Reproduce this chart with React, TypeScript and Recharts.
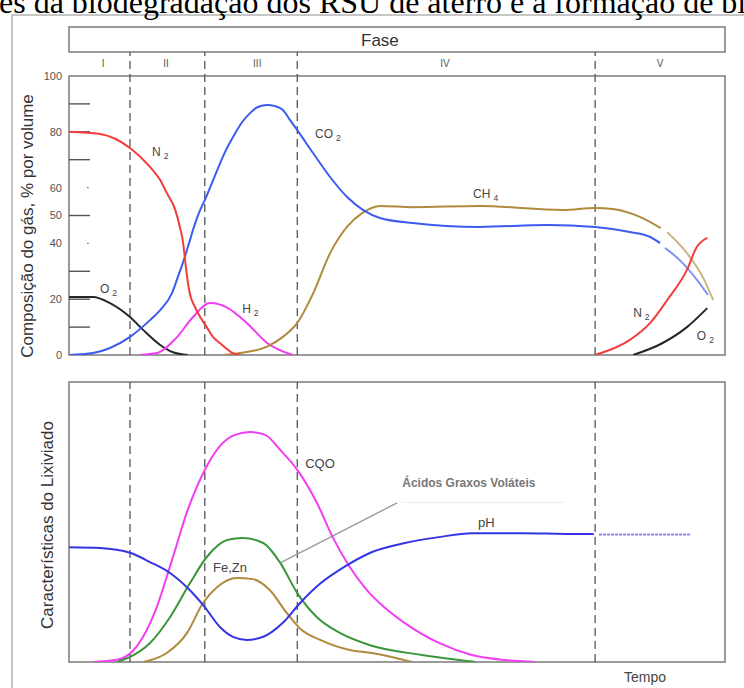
import React from 'react';
import { LineChart, Line, XAxis, YAxis, ReferenceArea, ReferenceLine, ReferenceDot } from 'recharts';

type Pt = { t: number; v: number };

const SANS = '"Liberation Sans", Arial, Helvetica, sans-serif';
const SERIF = '"Liberation Serif", "Times New Roman", serif';

// Time axis runs 0–100 (arbitrary units); phase boundaries I|II|III|IV|V
const PHASE_BOUNDS = [9.3, 20.7, 34.8, 80.2];
const PHASE_NAMES = ['I', 'II', 'III', 'IV', 'V'];
const PHASE_LABEL_T = [5.2, 14.8, 28.7, 57.3, 90.1];

// Gas composition axis
const GAS_TICKS = [0, 20, 40, 50, 60, 80, 100];
const GAS_MARKS = [10, 20, 30, 50, 70, 80, 90];
const GAS_DOTS = [40, 60];

// Gas composition, % by volume
const n2Early: Pt[] = [
  { t: 0, v: 80 }, { t: 4.73, v: 79.2 }, { t: 9.3, v: 74.2 }, { t: 12.35, v: 67.4 },
  { t: 13.9, v: 62.7 }, { t: 14.9, v: 58.1 }, { t: 16.2, v: 52 }, { t: 16.9, v: 45.9 },
  { t: 17.4, v: 40.1 }, { t: 17.7, v: 34 }, { t: 18.0, v: 28 }, { t: 18.4, v: 22.2 },
  { t: 19.2, v: 17.2 }, { t: 20.0, v: 13.6 }, { t: 21.0, v: 10 }, { t: 21.95, v: 6.5 },
  { t: 23.0, v: 4.3 }, { t: 25.0, v: 0.7 }, { t: 26.1, v: 0 },
];
const o2Early: Pt[] = [
  { t: 0, v: 20.8 }, { t: 3.66, v: 20.8 }, { t: 6.25, v: 18.6 }, { t: 9.3, v: 13.6 },
  { t: 11.3, v: 9 }, { t: 13.9, v: 3.6 }, { t: 15.85, v: 1 }, { t: 18.1, v: 0 },
];
const co2Main: Pt[] = [
  { t: 0, v: 0 }, { t: 3.66, v: 0.7 }, { t: 6.25, v: 2.5 }, { t: 9.3, v: 6.5 },
  { t: 12.35, v: 12.5 }, { t: 13.9, v: 16.1 }, { t: 15.7, v: 22.2 }, { t: 16.6, v: 28 },
  { t: 17.5, v: 34 }, { t: 18.3, v: 40.1 }, { t: 19.05, v: 45.9 }, { t: 20.0, v: 52 },
  { t: 20.7, v: 55.5 }, { t: 22.6, v: 66.3 }, { t: 23.8, v: 72.8 }, { t: 25.0, v: 78.1 },
  { t: 26.4, v: 83.5 }, { t: 27.6, v: 86.7 }, { t: 28.8, v: 88.9 }, { t: 30.2, v: 89.6 },
  { t: 31.4, v: 89.2 }, { t: 32.6, v: 87.8 }, { t: 33.7, v: 84.2 }, { t: 34.8, v: 80.6 },
  { t: 37.2, v: 72.4 }, { t: 39.8, v: 63.8 }, { t: 42.4, v: 56.6 }, { t: 44.8, v: 52 },
  { t: 47.4, v: 49.1 }, { t: 52.4, v: 47.3 }, { t: 62.65, v: 45.9 }, { t: 72.9, v: 46.6 },
  { t: 80.2, v: 45.9 }, { t: 85.5, v: 44.1 }, { t: 88.6, v: 42.3 }, { t: 90.1, v: 40.1 },
];
const co2Late: Pt[] = [
  { t: 90.85, v: 38.4 }, { t: 93.1, v: 34 }, { t: 95.7, v: 27 }, { t: 97.4, v: 21.5 },
];
const ch4Main: Pt[] = [
  { t: 23.5, v: 0 }, { t: 26.1, v: 0.7 }, { t: 30.2, v: 3 }, { t: 32.6, v: 6.5 },
  { t: 34.8, v: 11.5 }, { t: 37.2, v: 22 }, { t: 39.8, v: 36.5 }, { t: 42.4, v: 46 },
  { t: 44.8, v: 51 }, { t: 47.4, v: 53.4 }, { t: 52.4, v: 53 }, { t: 62.65, v: 53.4 },
  { t: 75.3, v: 52 }, { t: 80.2, v: 52.7 }, { t: 82.9, v: 52.3 }, { t: 87.0, v: 49.5 },
  { t: 90.2, v: 45.5 },
];
const ch4Late: Pt[] = [
  { t: 91.2, v: 44 }, { t: 94.2, v: 36.5 }, { t: 96.6, v: 28 }, { t: 98.2, v: 19.7 },
];
const h2Peak: Pt[] = [
  { t: 10.8, v: 0 }, { t: 13.4, v: 0.7 }, { t: 16.5, v: 6.5 }, { t: 18.9, v: 13.6 },
  { t: 21.5, v: 18.6 }, { t: 24.1, v: 17 }, { t: 27.1, v: 11.5 }, { t: 30.2, v: 4.3 },
  { t: 34.1, v: 0 },
];
const n2Late: Pt[] = [
  { t: 80.2, v: 0 }, { t: 85.5, v: 5.4 }, { t: 88.6, v: 11.5 }, { t: 91.2, v: 19.7 },
  { t: 94.2, v: 30.5 }, { t: 95.7, v: 38.7 }, { t: 97.3, v: 42 },
];
const o2Late: Pt[] = [
  { t: 86.0, v: 0 }, { t: 90.5, v: 4.3 }, { t: 94.2, v: 10 }, { t: 97.3, v: 16.8 },
];

// Leachate characteristics (relative scale 0–100)
const cqo: Pt[] = [
  { t: 3.66, v: 0 }, { t: 7.8, v: 1.1 }, { t: 10.5, v: 6.1 }, { t: 13.1, v: 17.9 },
  { t: 15.7, v: 36.4 }, { t: 18.1, v: 54.3 }, { t: 20.7, v: 68.6 }, { t: 23.0, v: 77.1 },
  { t: 25.3, v: 81.1 }, { t: 27.6, v: 82.1 }, { t: 29.9, v: 81.1 }, { t: 32.2, v: 75.7 },
  { t: 34.8, v: 68.6 }, { t: 37.8, v: 56.8 }, { t: 40.2, v: 44.6 }, { t: 42.8, v: 33.9 },
  { t: 45.4, v: 25.7 }, { t: 48.2, v: 19.3 }, { t: 51.2, v: 13.9 }, { t: 56.4, v: 6.8 },
  { t: 61.4, v: 2.5 }, { t: 66.5, v: 0.7 }, { t: 71.0, v: 0 },
];
const acidosGraxos: Pt[] = [
  { t: 7.3, v: 0 }, { t: 9.3, v: 1.8 }, { t: 12.35, v: 6.8 }, { t: 15.4, v: 16 },
  { t: 18.4, v: 28 }, { t: 21.0, v: 37.5 }, { t: 24.1, v: 43.6 }, { t: 26.5, v: 44.3 },
  { t: 29.6, v: 42.5 }, { t: 32.2, v: 35.4 }, { t: 34.8, v: 24.6 }, { t: 37.8, v: 16 },
  { t: 41.3, v: 10.4 }, { t: 45.9, v: 6 }, { t: 53.8, v: 2.5 }, { t: 62.0, v: 0 },
];
const feZn: Pt[] = [
  { t: 11.3, v: 0 }, { t: 14.9, v: 3.2 }, { t: 18.0, v: 10.4 }, { t: 20.4, v: 21 },
  { t: 22.6, v: 26.8 }, { t: 25.6, v: 30 }, { t: 28.0, v: 29.6 }, { t: 30.6, v: 25.7 },
  { t: 33.2, v: 17.5 }, { t: 35.2, v: 12 }, { t: 38.3, v: 7.9 }, { t: 42.8, v: 4.3 },
  { t: 46.2, v: 3.2 }, { t: 49.2, v: 1.8 }, { t: 52.3, v: 0 },
];
const ph: Pt[] = [
  { t: 0, v: 41 }, { t: 4.73, v: 40.7 }, { t: 9.3, v: 39 }, { t: 12.35, v: 35.7 },
  { t: 15.4, v: 31.8 }, { t: 18.4, v: 25.7 }, { t: 20.7, v: 19.6 }, { t: 23.0, v: 12.5 },
  { t: 25.0, v: 9 }, { t: 27.1, v: 7.9 }, { t: 29.6, v: 9 }, { t: 32.6, v: 14 },
  { t: 35.2, v: 21 }, { t: 38.3, v: 28 }, { t: 42.4, v: 34.6 }, { t: 46.2, v: 39.3 },
  { t: 51.2, v: 42.5 }, { t: 56.4, v: 44.6 }, { t: 61.4, v: 46 }, { t: 69.05, v: 46 },
  { t: 76.7, v: 45.7 }, { t: 80.0, v: 45.7 },
];
const phLate: Pt[] = [{ t: 80.8, v: 45.5 }, { t: 94.7, v: 45.5 }];

// Vertical layout of the gas panel in data units (100% line is the plot box top)
const TOP_MAX = 117.56;
const FASE_BOTTOM = 108.6;

const FRAME = '#7a7a7a';
const DASH = '#555';

const TextMark = (props: any) => {
  const { viewBox, base, sub, size = 12, fill = '#444', anchor = 'start', weight = 'normal' } = props;
  const x = viewBox?.x ?? 0;
  const y = viewBox?.y ?? 0;
  return (
    <text x={x} y={y} fontSize={size} fill={fill} fontFamily={SANS} textAnchor={anchor} fontWeight={weight}>
      {base}
      {sub ? (
        <tspan dx={3} dy={3} fontSize={size * 0.72}>
          {sub}
        </tspan>
      ) : null}
    </text>
  );
};

const lineProps = {
  dataKey: 'v',
  type: 'monotone' as const,
  strokeWidth: 2,
  dot: false,
  activeDot: false,
  isAnimationActive: false,
};

function GasPanel() {
  return (
    <LineChart width={744} height={370} margin={{ top: 27, right: 19, bottom: 15, left: 29 }}>
      <XAxis type="number" dataKey="t" domain={[0, 100]} hide allowDataOverflow />
      <YAxis
        type="number"
        domain={[0, TOP_MAX]}
        ticks={GAS_TICKS}
        width={40}
        axisLine={false}
        tickLine={false}
        tickSize={0}
        tickMargin={7}
        allowDataOverflow
        tick={{ fontSize: 11, fill: '#555', fontFamily: SANS }}
      />
      <ReferenceArea
        x1={0}
        x2={100}
        y1={FASE_BOTTOM}
        y2={TOP_MAX}
        fill="#fff"
        fillOpacity={1}
        stroke={FRAME}
        strokeWidth={1.5}
      />
      <ReferenceArea x1={0} x2={100} y1={0} y2={100} fill="none" stroke={FRAME} strokeWidth={1.5} />
      {PHASE_BOUNDS.map((b) => (
        <ReferenceLine
          key={b}
          segment={[{ x: b, y: 0 }, { x: b, y: FASE_BOTTOM }]}
          stroke={DASH}
          strokeWidth={1.3}
          strokeDasharray="8 5"
        />
      ))}
      {GAS_MARKS.map((m) => (
        <ReferenceLine key={'m' + m} segment={[{ x: 0, y: m }, { x: 3.2, y: m }]} stroke="#555" strokeWidth={1.4} />
      ))}
      {GAS_DOTS.map((m) => (
        <ReferenceLine key={'d' + m} segment={[{ x: 2.75, y: m }, { x: 3.0, y: m }]} stroke="#777" strokeWidth={1.4} />
      ))}
      {PHASE_NAMES.map((n, i) => (
        <ReferenceDot
          key={n}
          x={PHASE_LABEL_T[i]}
          y={103.2}
          r={0}
          fill="none"
          stroke="none"
          label={<TextMark base={n} size={10} fill="#555" anchor="middle" />}
        />
      ))}

      <Line {...lineProps} data={o2Early} stroke="#262626" />
      <Line {...lineProps} data={h2Peak} stroke="#f03cf0" />
      <Line {...lineProps} data={ch4Main} stroke="#b08a3e" />
      <Line {...lineProps} data={ch4Late} stroke="#cbb486" />
      <Line {...lineProps} data={co2Main} stroke="#3d5af1" />
      <Line {...lineProps} data={co2Late} stroke="#8096f2" />
      <Line {...lineProps} data={n2Early} stroke="#f43c3c" />
      <Line {...lineProps} data={n2Late} stroke="#f43c3c" />
      <Line {...lineProps} data={o2Late} stroke="#262626" />

      <ReferenceDot x={47.4} y={110.75} r={0} fill="none" stroke="none" label={<TextMark base="Fase" size={17} fill="#333" anchor="middle" />} />
      <ReferenceDot x={12.65} y={71.3} r={0} fill="none" stroke="none" label={<TextMark base="N" sub="2" />} />
      <ReferenceDot x={37.5} y={77.8} r={0} fill="none" stroke="none" label={<TextMark base="CO" sub="2" />} />
      <ReferenceDot x={61.6} y={56.3} r={0} fill="none" stroke="none" label={<TextMark base="CH" sub="4" />} />
      <ReferenceDot x={4.73} y={22.2} r={0} fill="none" stroke="none" label={<TextMark base="O" sub="2" />} />
      <ReferenceDot x={26.4} y={15.05} r={0} fill="none" stroke="none" label={<TextMark base="H" sub="2" />} />
      <ReferenceDot x={86.0} y={13.6} r={0} fill="none" stroke="none" label={<TextMark base="N" sub="2" />} />
      <ReferenceDot x={95.7} y={5.4} r={0} fill="none" stroke="none" label={<TextMark base="O" sub="2" />} />
    </LineChart>
  );
}

function LeachatePanel() {
  return (
    <LineChart width={744} height={318} margin={{ top: 12, right: 19, bottom: 26, left: 69 }}>
      <XAxis type="number" dataKey="t" domain={[0, 100]} hide allowDataOverflow />
      <YAxis type="number" domain={[0, 100]} hide allowDataOverflow />
      <ReferenceArea x1={0} x2={100} y1={0} y2={100} fill="none" stroke={FRAME} strokeWidth={1.5} />
      {PHASE_BOUNDS.map((b) => (
        <ReferenceLine
          key={b}
          segment={[{ x: b, y: 0 }, { x: b, y: 100 }]}
          stroke={DASH}
          strokeWidth={1.3}
          strokeDasharray="8 5"
        />
      ))}
      <ReferenceLine segment={[{ x: 50.6, y: 57 }, { x: 75.5, y: 57 }]} stroke="#ececec" strokeWidth={1} />
      <ReferenceLine segment={[{ x: 32.2, y: 35.4 }, { x: 50.0, y: 56.8 }]} stroke="#9a9a9a" strokeWidth={1.4} />

      <Line {...lineProps} data={cqo} stroke="#f23ef2" />
      <Line {...lineProps} data={feZn} stroke="#b08a3e" />
      <Line {...lineProps} data={acidosGraxos} stroke="#3a963a" />
      <Line {...lineProps} data={ph} stroke="#3434e6" />
      <Line {...lineProps} data={phLate} stroke="#8a8af0" strokeDasharray="3 1" />

      <ReferenceDot x={36.0} y={69.3} r={0} fill="none" stroke="none" label={<TextMark base="CQO" size={13} />} />
      <ReferenceDot x={62.35} y={48.2} r={0} fill="none" stroke="none" label={<TextMark base="pH" size={13} />} />
      <ReferenceDot x={21.95} y={32.1} r={0} fill="none" stroke="none" label={<TextMark base="Fe,Zn" size={13} />} />
      <ReferenceDot
        x={50.8}
        y={62.5}
        r={0}
        fill="none"
        stroke="none"
        label={<TextMark base="Ácidos Graxos Voláteis" size={12} fill="#777" weight="bold" />}
      />
      <ReferenceDot
        x={87.8}
        y={-7.1}
        r={0}
        fill="none"
        stroke="none"
        ifOverflow="visible"
        label={<TextMark base="Tempo" size={14} fill="#444" anchor="middle" />}
      />
    </LineChart>
  );
}

export default function App() {
  return (
    <div style={{ position: 'absolute', left: 0, top: 0, width: 744, height: 688, overflow: 'hidden', background: '#fff' }}>
      <div
        style={{
          position: 'absolute',
          left: 11,
          top: 14,
          width: 900,
          height: 900,
          border: '2px solid #c6c6c6',
          boxSizing: 'border-box',
        }}
      />
      <div style={{ position: 'absolute', left: 0, top: 0 }}>
        <GasPanel />
      </div>
      <div style={{ position: 'absolute', left: 0, top: 370 }}>
        <LeachatePanel />
      </div>
      <svg width={744} height={688} style={{ position: 'absolute', left: 0, top: 0, pointerEvents: 'none' }}>
        <text x={-1} y={12.5} fontSize={32} fontFamily={SERIF} fill="#000">
          es da biodegradação dos RSU de aterro e a formação de bi
        </text>
        <text transform="translate(33,226) rotate(-90)" textAnchor="middle" fontSize={17} fontFamily={SANS} fill="#333">
          Composição do gás, % por volume
        </text>
        <text transform="translate(53,525) rotate(-90)" textAnchor="middle" fontSize={17} fontFamily={SANS} fill="#333">
          Características do Lixiviado
        </text>
      </svg>
    </div>
  );
}
